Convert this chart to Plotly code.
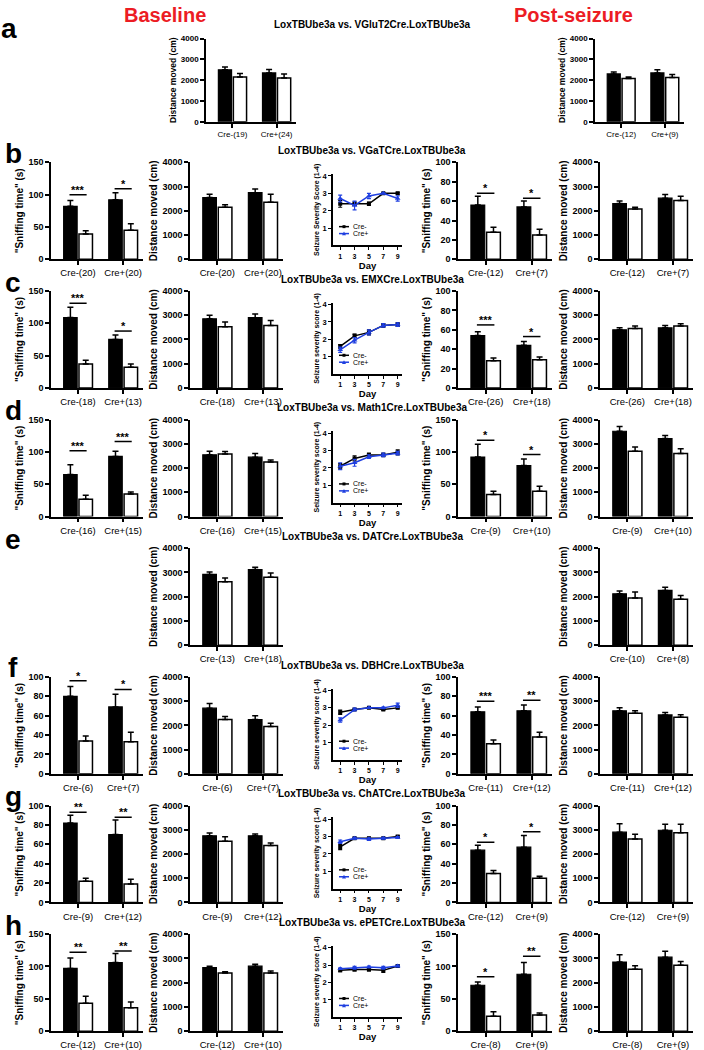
import plotly.graph_objects as go

W, H = 704, 1050
FONT = "Arial, Liberation Sans, Helvetica, sans-serif"

# ---------------- data ----------------
row_letters = ["a", "b", "c", "d", "e", "f", "g", "h"]
row_titles = [
    "LoxTBUbe3a vs. VGluT2Cre.LoxTBUbe3a",
    "LoxTBUbe3a vs. VGaTCre.LoxTBUbe3a",
    "LoxTBUbe3a vs. EMXCre.LoxTBUbe3a",
    "LoxTBUbe3a vs. Math1Cre.LoxTBUbe3a",
    "LoxTBUbe3a vs. DATCre.LoxTBUbe3a",
    "LoxTBUbe3a vs. DBHCre.LoxTBUbe3a",
    "LoxTBUbe3a vs. ChATCre.LoxTBUbe3a",
    "LoxTBUbe3a vs. ePETCre.LoxTBUbe3a",
]
base_labels = [["Cre-(19)", "Cre+(24)"], ["Cre-(20)", "Cre+(20)"], ["Cre-(18)", "Cre+(13)"],
               ["Cre-(16)", "Cre+(15)"], ["Cre-(13)", "Cre+(18)"], ["Cre-(6)", "Cre+(7)"],
               ["Cre-(9)", "Cre+(12)"], ["Cre-(12)", "Cre+(10)"]]
post_labels = [["Cre-(12)", "Cre+(9)"], ["Cre-(12)", "Cre+(7)"], ["Cre-(26)", "Cre+(18)"],
               ["Cre-(9)", "Cre+(10)"], ["Cre-(10)", "Cre+(8)"], ["Cre-(11)", "Cre+(12)"],
               ["Cre-(12)", "Cre+(9)"], ["Cre-(8)", "Cre+(9)"]]

# Sniffing time, baseline (None = panel absent)
sniff_base_max = [None, 150, 150, 150, None, 100, 100, 150]
sniff_base_black = [None, [82, 92], [109, 75], [65, 93], None, [80, 69], [82, 70], [97, 106]]
sniff_base_black_err = [None, [9, 11], [16, 7], [15, 8], None, [10, 13], [8, 15], [16, 14]]
sniff_base_white = [None, [39, 45], [37, 32], [27, 35], None, [34, 33], [22, 19], [43, 36]]
sniff_base_white_err = [None, [5, 10], [6, 5], [6, 3], None, [5, 10], [3, 5], [11, 9]]
sniff_base_sig = [None, [100, 109], [131, 88], [102, 116], None, [96, 87], [93, 88], [122, 124]]
sniff_base_stars = [None, ["***", "*"], ["***", "*"], ["***", "***"], None, ["*", "*"], ["**", "**"], ["**", "**"]]

# Sniffing time, post-seizure
sniff_post_max = [None, 100, 100, 150, None, 100, 100, 150]
sniff_post_black = [None, [56, 54], [54, 44], [92, 79], None, [64, 65], [54, 57], [71, 88]]
sniff_post_black_err = [None, [9, 6], [4, 4], [20, 10], None, [5, 6], [5, 12], [5, 18]]
sniff_post_white = [None, [28, 25], [28, 29], [34, 39], None, [31, 38], [30, 25], [23, 25]]
sniff_post_white_err = [None, [5, 6], [3, 3], [5, 8], None, [4, 5], [3, 2], [7, 3]]
sniff_post_sig = [None, [68, 63], [65, 53], [118, 96], None, [75, 76], [62, 73], [84, 116]]
sniff_post_stars = [None, ["*", "*"], ["***", "*"], ["*", "*"], None, ["***", "**"], ["*", "*"], ["*", "**"]]

# Distance moved, baseline
dist_base_black = [[2500, 2350], [2550, 2750], [2850, 2900], [2550, 2450], [2920, 3120],
                   [2710, 2240], [2750, 2750], [2620, 2680]]
dist_base_black_err = [[130, 170], [130, 150], [150, 150], [150, 150], [100, 100],
                       [190, 160], [120, 80], [60, 80]]
dist_base_white = [[2150, 2100], [2150, 2350], [2520, 2580], [2580, 2250], [2620, 2800],
                   [2240, 1950], [2530, 2350], [2400, 2400]]
dist_base_white_err = [[170, 200], [100, 330], [200, 200], [100, 80], [150, 180],
                       [130, 140], [180, 100], [50, 80]]

# Distance moved, post-seizure
dist_post_black = [[2300, 2350], [2300, 2520], [2400, 2480], [3520, 3220], [2120, 2260],
                   [2600, 2430], [2900, 2980], [2850, 3050]]
dist_post_black_err = [[100, 150], [100, 150], [80, 100], [200, 120], [120, 130],
                       [130, 100], [350, 250], [300, 250]]
dist_post_white = [[2080, 2130], [2080, 2430], [2450, 2550], [2700, 2600], [1950, 1900],
                   [2500, 2340], [2620, 2880], [2550, 2720]]
dist_post_white_err = [[80, 150], [70, 170], [100, 100], [170, 200], [250, 150],
                       [100, 100], [200, 350], [150, 150]]

# Seizure severity score over days
days = [1, 3, 5, 7, 9]
seiz_black = [None, [2.4, 2.4, 2.4, 3.0, 3.0], [1.6, 2.2, 2.4, 2.8, 2.85], [2.1, 2.55, 2.75, 2.75, 2.9],
              None, [2.75, 2.9, 3.0, 2.9, 3.0], [2.4, 2.9, 2.9, 2.9, 3.0], [2.7, 2.75, 2.75, 2.7, 2.95]]
seiz_black_err = [None, [0.2, 0.1, 0.1, 0.03, 0.05], [0.1, 0.1, 0.15, 0.1, 0.1], [0.15, 0.15, 0.1, 0.1, 0.15],
                  None, [0.12, 0.05, 0.03, 0.05, 0.05], [0.15, 0.05, 0.05, 0.05, 0.05], [0.08, 0.08, 0.08, 0.12, 0.05]]
seiz_blue = [None, [2.7, 2.3, 2.85, 3.0, 2.7], [1.4, 1.95, 2.4, 2.8, 2.85], [2.1, 2.3, 2.65, 2.75, 2.85],
             None, [2.3, 2.9, 3.0, 3.0, 3.15], [2.7, 2.9, 2.85, 2.9, 2.95], [2.8, 2.85, 2.9, 2.85, 2.95]]
seiz_blue_err = [None, [0.2, 0.25, 0.15, 0.03, 0.15], [0.15, 0.15, 0.15, 0.1, 0.1], [0.2, 0.2, 0.1, 0.1, 0.1],
                 None, [0.12, 0.08, 0.03, 0.05, 0.12], [0.1, 0.05, 0.08, 0.05, 0.05], [0.05, 0.08, 0.05, 0.08, 0.05]]
seiz_ytitle = [None, "Seizure Severity Score (1-4)"] + ["Seizure severity score (1-4)"] * 6
series_names = ["Cre-", "Cre+"]
BLUE = "#1f3fe0"

# ---------------- layout helpers ----------------
fig = go.Figure()
lay = {}
shapes = []
annotations = []
counter = [0]


def fx(v):
    return v / W


def fy(v):
    return 1 - v / H


def text(xp, yp, s, size, color="black", xanchor="center", family=FONT):
    annotations.append(dict(x=fx(xp), y=fy(yp), xref="paper", yref="paper", text=s,
                            showarrow=False, xanchor=xanchor, yanchor="middle",
                            font=dict(family=family, size=size, color=color)))


def new_axes():
    counter[0] += 1
    k = counter[0]
    s = "" if k == 1 else str(k)
    return "x" + s, "y" + s, "xaxis" + s, "yaxis" + s


BAR_OFF = 0.19


def bar_panel(x0, x1, top, bottom, cats, black, black_err, white, white_err, ymax, dtick,
              ytitle, sig=None, stars=None, small=False):
    xn, yn, xk, yk = new_axes()
    tf = 8 if small else 9.5
    yf = 8 if small else 9
    tt = 8.5 if small else 10
    fig.add_trace(go.Bar(x=cats, y=black, xaxis=xn, yaxis=yn, showlegend=False,
                         marker=dict(color="black", line=dict(color="black", width=1.2)),
                         error_y=dict(type="data", array=black_err, arrayminus=[0] * len(black),
                                      symmetric=False, color="black", thickness=1.5, width=3)))
    fig.add_trace(go.Bar(x=cats, y=white, xaxis=xn, yaxis=yn, showlegend=False,
                         marker=dict(color="white", line=dict(color="black", width=1.5)),
                         error_y=dict(type="data", array=white_err, arrayminus=[0] * len(white),
                                      symmetric=False, color="black", thickness=1.5, width=3)))
    lay[xk] = dict(domain=[fx(x0), fx(x1)], anchor=yn, type="category", range=[-0.6, 1.44],
                   showline=True, linecolor="black", linewidth=1.5, ticks="outside", ticklen=4,
                   tickwidth=1.5, tickcolor="black", showgrid=False, zeroline=False,
                   tickfont=dict(family=FONT, size=tf, color="black"))
    lay[yk] = dict(domain=[fy(bottom), fy(top)], anchor=xn, range=[0, ymax], dtick=dtick,
                   showline=True, linecolor="black", linewidth=1.5, ticks="outside", ticklen=4,
                   tickwidth=1.5, tickcolor="black", showgrid=False, zeroline=False,
                   tickfont=dict(family=FONT, size=yf, color="black", weight="bold"),
                   title=dict(text=ytitle, standoff=3,
                              font=dict(family=FONT, size=tt, color="black", weight="bold")))
    if sig is not None:
        for i, (h, st) in enumerate(zip(sig, stars)):
            shapes.append(dict(type="line", xref=xn, yref=yn, x0=i - BAR_OFF, x1=i + BAR_OFF,
                               y0=h, y1=h, line=dict(color="black", width=1.5)))
            annotations.append(dict(x=i, y=h, xref=xn, yref=yn, text="<b>" + st + "</b>", showarrow=False,
                                    xanchor="center", yanchor="bottom", yshift=-3,
                                    font=dict(family=FONT, size=11, color="#000000")))


def seizure_panel(x0, x1, top, bottom, black, black_err, blue, blue_err, ytitle, leg_top):
    xn, yn, xk, yk = new_axes()
    fig.add_trace(go.Scatter(x=days, y=black, xaxis=xn, yaxis=yn, name=series_names[0], showlegend=False,
                             mode="lines+markers", line=dict(color="black", width=1.5),
                             marker=dict(symbol="square", size=4, color="black"),
                             error_y=dict(type="data", array=black_err, color="black",
                                          thickness=1.2, width=2)))
    fig.add_trace(go.Scatter(x=days, y=blue, xaxis=xn, yaxis=yn, name=series_names[1], showlegend=False,
                             mode="lines+markers", line=dict(color=BLUE, width=1.5),
                             marker=dict(symbol="triangle-up", size=5, color=BLUE),
                             error_y=dict(type="data", array=blue_err, color=BLUE,
                                          thickness=1.2, width=2)))
    lay[xk] = dict(domain=[fx(x0), fx(x1)], anchor=yn, range=[0, 9.6], tickvals=days,
                   showline=True, linecolor="black", linewidth=1.5, ticks="outside", ticklen=3,
                   tickwidth=1.2, tickcolor="black", showgrid=False, zeroline=False,
                   tickfont=dict(family=FONT, size=7, color="black", weight="bold"),
                   title=dict(text="Day", standoff=0,
                              font=dict(family=FONT, size=9.5, color="black", weight="bold")))
    lay[yk] = dict(domain=[fy(bottom), fy(top)], anchor=xn, range=[0, 4.1], tickvals=[1, 2, 3, 4],
                   showline=True, linecolor="black", linewidth=1.5, ticks="outside", ticklen=3,
                   tickwidth=1.2, tickcolor="black", showgrid=False, zeroline=False,
                   tickfont=dict(family=FONT, size=7.5, color="black", weight="bold"),
                   title=dict(text=ytitle, standoff=2,
                              font=dict(family=FONT, size=7, color="black", weight="bold")))
    # compact legend (key line + marker + label)
    for i, (nm, col) in enumerate(zip(series_names, ["black", BLUE])):
        ly = leg_top + 7 * i
        shapes.append(dict(type="line", xref="paper", yref="paper", x0=fx(x0 + 6), x1=fx(x0 + 16),
                           y0=fy(ly), y1=fy(ly), line=dict(color=col, width=1.5)))
        if i == 0:
            shapes.append(dict(type="rect", xref="paper", yref="paper", x0=fx(x0 + 9.5), x1=fx(x0 + 12.5),
                               y0=fy(ly + 1.5), y1=fy(ly - 1.5), fillcolor=col, line=dict(width=0)))
        else:
            shapes.append(dict(type="path", xref="paper", yref="paper",
                               path="M %f %f L %f %f L %f %f Z" % (fx(x0 + 9), fy(ly + 1.8), fx(x0 + 13), fy(ly + 1.8),
                                                                  fx(x0 + 11), fy(ly - 2)),
                               fillcolor=col, line=dict(width=0)))
        text(x0 + 18, ly, nm, 7, xanchor="left")


SNIFF_T = '"Sniffing time" (s)'
DIST_T = "Distance moved (cm)"

COL1 = (51, 143)
COL2 = (190, 283)
COL3 = (333, 402)
COL4 = (458, 552)
COL5 = (600, 693)

# ---------------- row a ----------------
bar_panel(206, 296, 34, 118, base_labels[0], dist_base_black[0], dist_base_black_err[0],
          dist_base_white[0], dist_base_white_err[0], 4000, 1000, DIST_T, small=True)
bar_panel(595, 684, 34, 118, post_labels[0], dist_post_black[0], dist_post_black_err[0],
          dist_post_white[0], dist_post_white_err[0], 4000, 1000, DIST_T, small=True)
text(372, 20, "<b>" + row_titles[0] + "</b>", 10)
text(9, 24, "<b>a</b>", 28)
text(165, 10, "<b>Baseline</b>", 20, color="#ec1c24")
text(573, 10, "<b>Post-seizure</b>", 20, color="#ec1c24")

# ---------------- rows b..h ----------------
for r in range(1, 8):
    top = 159 + 130 * (r - 1)
    bottom = 257 + 130 * (r - 1)
    text(372, top - 12, "<b>" + row_titles[r] + "</b>", 10)
    text(13, top - 9, "<b>" + row_letters[r] + "</b>", 28)
    if sniff_base_black[r] is not None:
        m = sniff_base_max[r]
        bar_panel(COL1[0], COL1[1], top, bottom, base_labels[r], sniff_base_black[r],
                  sniff_base_black_err[r], sniff_base_white[r], sniff_base_white_err[r],
                  m, 50 if m == 150 else 20, SNIFF_T, sniff_base_sig[r], sniff_base_stars[r])
    bar_panel(COL2[0], COL2[1], top, bottom, base_labels[r], dist_base_black[r], dist_base_black_err[r],
              dist_base_white[r], dist_base_white_err[r], 4000, 1000, DIST_T)
    if seiz_black[r] is not None:
        seizure_panel(COL3[0], COL3[1], top + 12, bottom - 14, seiz_black[r], seiz_black_err[r],
                      seiz_blue[r], seiz_blue_err[r], seiz_ytitle[r], top + 65)
    if sniff_post_black[r] is not None:
        m = sniff_post_max[r]
        bar_panel(COL4[0], COL4[1], top, bottom, post_labels[r], sniff_post_black[r],
                  sniff_post_black_err[r], sniff_post_white[r], sniff_post_white_err[r],
                  m, 50 if m == 150 else 20, SNIFF_T, sniff_post_sig[r], sniff_post_stars[r])
    bar_panel(COL5[0], COL5[1], top, bottom, post_labels[r], dist_post_black[r], dist_post_black_err[r],
              dist_post_white[r], dist_post_white_err[r], 4000, 1000, DIST_T)

fig.update_layout(
    width=W, height=H, autosize=False,
    margin=dict(l=0, r=0, t=0, b=0),
    paper_bgcolor="white", plot_bgcolor="white",
    barmode="group", bargap=0.32, bargroupgap=0.12,
    font=dict(family=FONT, color="black"),
    showlegend=False,
    shapes=shapes, annotations=annotations,
    **lay,
)

fig.write_html("out.html", config={"displayModeBar": False},
               post_script="document.body.style.margin='0';document.body.style.padding='0';")
